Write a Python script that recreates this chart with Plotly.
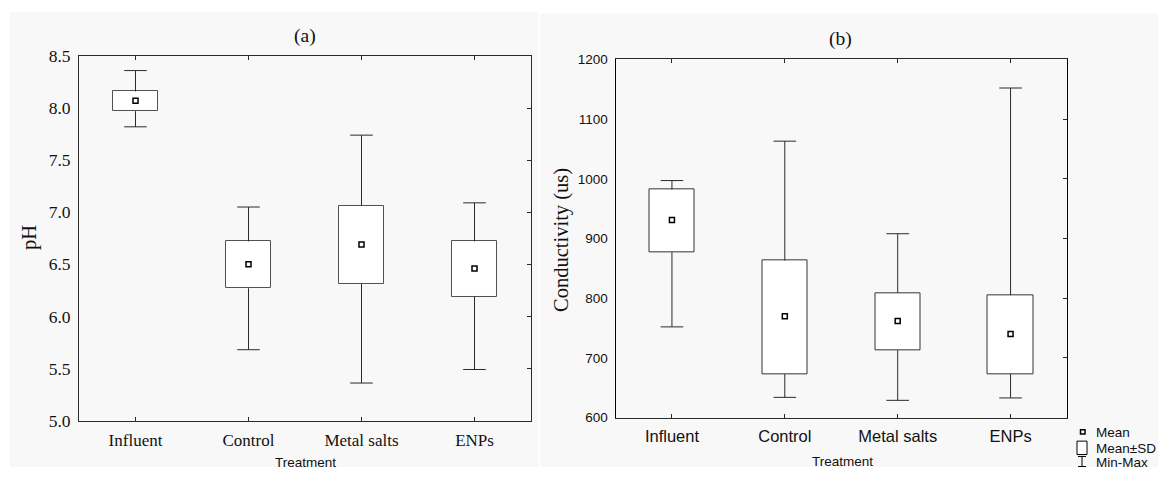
import plotly.graph_objects as go

# Treatment groups (shared by both panels)
treatments = ["Influent", "Control", "Metal salts", "ENPs"]

# (a) pH summary statistics
ph_mean = [8.07, 6.50, 6.69, 6.46]
ph_sd_low = [7.97, 6.27, 6.31, 6.19]
ph_sd_high = [8.16, 6.72, 7.06, 6.72]
ph_min = [7.82, 5.68, 5.36, 5.49]
ph_max = [8.36, 7.05, 7.74, 7.09]

# (b) Conductivity summary statistics (us)
ec_mean = [931, 770, 762, 740]
ec_sd_low = [877, 673, 713, 673]
ec_sd_high = [982, 863, 809, 805]
ec_min = [752, 634, 629, 633]
ec_max = [997, 1063, 908, 1152]

W, H = 1158, 477
BOX_W = 0.4
CAP_HALF = 0.1
SERIF = "Liberation Serif, Times New Roman, serif"
SANS = "Liberation Sans, Arial, sans-serif"
LINE = "#2a2a2a"


def px(x):
    return x / W


def py(y):
    return 1 - y / H


fig = go.Figure()


def whisker_path(lo, hi, mn, mx):
    xs, ys = [], []
    for i in range(len(lo)):
        # upper whisker + cap
        xs += [i, i, None, i - CAP_HALF, i + CAP_HALF, None]
        ys += [hi[i], mx[i], None, mx[i], mx[i], None]
        # lower whisker + cap
        xs += [i, i, None, i - CAP_HALF, i + CAP_HALF, None]
        ys += [lo[i], mn[i], None, mn[i], mn[i], None]
    return xs, ys


def add_panel(xa, ya, mean, lo, hi, mn, mx, box_color):
    idx = list(range(len(mean)))
    fig.add_trace(go.Bar(
        x=idx, y=[h - l for h, l in zip(hi, lo)], base=lo, width=BOX_W,
        marker=dict(color="white", line=dict(color=box_color, width=1)),
        xaxis=xa, yaxis=ya, showlegend=False, hoverinfo="skip"))
    wx, wy = whisker_path(lo, hi, mn, mx)
    fig.add_trace(go.Scatter(
        x=wx, y=wy, mode="lines", line=dict(color=LINE, width=1),
        xaxis=xa, yaxis=ya, showlegend=False, hoverinfo="skip"))
    fig.add_trace(go.Scatter(
        x=idx, y=mean, mode="markers",
        marker=dict(symbol="square", size=5, color="white",
                    line=dict(color="black", width=1.5)),
        xaxis=xa, yaxis=ya, showlegend=False))


add_panel("x", "y", ph_mean, ph_sd_low, ph_sd_high, ph_min, ph_max, "#505050")
add_panel("x2", "y2", ec_mean, ec_sd_low, ec_sd_high, ec_min, ec_max, "#333")
# empty traces so the mirrored tick axes are drawn
fig.add_trace(go.Scatter(x=[], y=[], xaxis="x", yaxis="y3", showlegend=False))
fig.add_trace(go.Scatter(x=[], y=[], xaxis="x2", yaxis="y4", showlegend=False))

dom_a_x = [px(79), px(531)]
dom_a_y = [py(428.5), py(48)]
dom_b_x = [px(615.5), px(1067)]
dom_b_y = [py(425.5), py(51.5)]

xcommon = dict(range=[-0.5, 3.5], tickmode="array", tickvals=[0, 1, 2, 3],
               ticktext=treatments, ticks="inside", ticklen=4, tickcolor=LINE,
               showline=True, linecolor=LINE, linewidth=1, mirror="ticks",
               showgrid=False, zeroline=False, fixedrange=True,
               ticklabelstandoff=4)

fig.update_layout(
    width=W, height=H,
    margin=dict(l=0, r=0, t=0, b=0),
    paper_bgcolor="white", plot_bgcolor="white",
    showlegend=False, bargap=0,
    xaxis=dict(**xcommon, domain=dom_a_x, anchor="y",
               tickfont=dict(family=SERIF, size=17, color="#111")),
    yaxis=dict(domain=dom_a_y, anchor="x", range=[5, 8.5], dtick=0.5,
               tickformat=".1f", ticks="", showline=True, linecolor=LINE,
               mirror=True, showgrid=False, zeroline=False,
               tickfont=dict(family=SERIF, size=17.5, color="#111"),
               ticklabelstandoff=4),
    yaxis3=dict(overlaying="y", anchor="x", side="right", range=[5, 8.5],
                dtick=0.5, ticks="inside", ticklen=4, tickcolor=LINE,
                showticklabels=False, showline=False, showgrid=False,
                zeroline=False),
    xaxis2=dict(**xcommon, domain=dom_b_x, anchor="y2",
                tickfont=dict(family=SANS, size=16.5, color="#111")),
    yaxis2=dict(domain=dom_b_y, anchor="x2", range=[600, 1200], dtick=100,
                ticks="", showline=True, linecolor="black", mirror=True,
                showgrid=False, zeroline=False,
                tickfont=dict(family=SANS, size=13.5, color="#111"),
                ticklabelstandoff=4),
    yaxis4=dict(overlaying="y2", anchor="x2", side="right", range=[600, 1200],
                dtick=100, ticks="inside", ticklen=4, tickcolor=LINE,
                showticklabels=False, showline=False, showgrid=False,
                zeroline=False),
)

# light grey panel backgrounds
fig.add_shape(type="rect", xref="paper", yref="paper", layer="below",
              x0=px(10), x1=px(538), y0=0, y1=py(2),
              fillcolor="#f8f8f8", line=dict(width=0))
fig.add_shape(type="rect", xref="paper", yref="paper", layer="below",
              x0=px(540), x1=1, y0=0, y1=py(4),
              fillcolor="#f8f8f8", line=dict(width=0))

ann = [
    dict(text="(a)", x=px(305), y=py(27), font=dict(family=SERIF, size=19.5)),
    dict(text="(b)", x=px(840), y=py(30.5), font=dict(family=SERIF, size=19.5)),
    dict(text="pH", x=px(29), y=py(238), textangle=-90,
         font=dict(family=SERIF, size=20.5)),
    dict(text="Conductivity (us)", x=px(562), y=py(240), textangle=-90,
         font=dict(family=SERIF, size=20.5)),
    dict(text="Treatment", x=px(305), y=py(472), font=dict(family=SANS, size=13.5)),
    dict(text="Treatment", x=px(842), y=py(471.5), font=dict(family=SANS, size=13.5)),
]
for a in ann:
    a["font"]["color"] = "#111"
    fig.add_annotation(xref="paper", yref="paper", showarrow=False,
                       xanchor="center", yanchor="middle", **a)

# legend key: Mean / Mean±SD / Min-Max
for label, yy in [("Mean", 440.5), ("Mean±SD", 457.5), ("Min-Max", 472)]:
    fig.add_annotation(xref="paper", yref="paper", showarrow=False,
                       x=px(1093.5), y=py(yy), xanchor="left", yanchor="middle",
                       text=label, font=dict(family=SANS, size=13.5, color="#111"))
fig.add_shape(type="rect", xref="paper", yref="paper",
              x0=px(1080.5), x1=px(1085), y0=py(442.5), y1=py(438),
              fillcolor="white", line=dict(color="black", width=1.5))
fig.add_shape(type="rect", xref="paper", yref="paper",
              x0=px(1077), x1=px(1087), y0=py(464), y1=py(450),
              fillcolor="white", line=dict(color="black", width=1))
for x0, x1, y0, y1 in [(1082, 1082, 466, 476.5), (1078, 1086, 466, 466),
                       (1078, 1086, 476.5, 476.5)]:
    fig.add_shape(type="line", xref="paper", yref="paper",
                  x0=px(x0), x1=px(x1), y0=py(y0), y1=py(y1),
                  line=dict(color="black", width=1))

fig.write_html("out.html")
